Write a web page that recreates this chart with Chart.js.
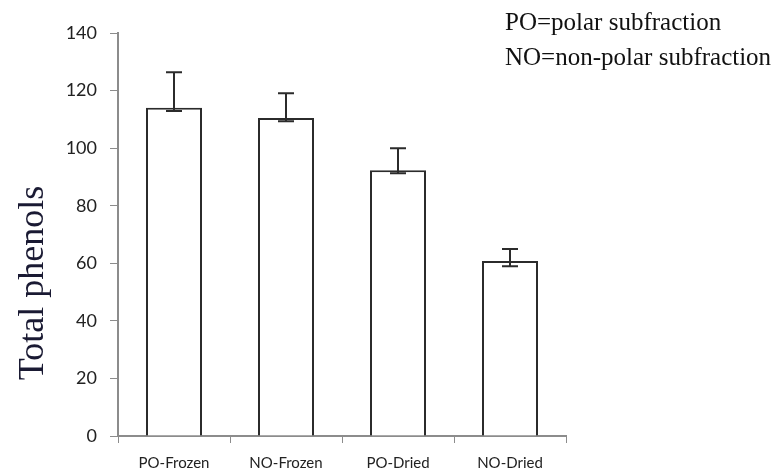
<!DOCTYPE html>
<html>
<head>
<meta charset="utf-8">
<script src="https://cdn.jsdelivr.net/npm/chart.js@4.4.1/dist/chart.umd.min.js"></script>
<style>
  html,body{margin:0;padding:0;background:#fff;}
  #wrap{width:777px;height:472px;position:relative;}
</style>
</head>
<body>
<div id="wrap"><canvas id="c" width="777" height="472"></canvas></div>
<script>
// data
const categories = ['PO-Frozen', 'NO-Frozen', 'PO-Dried', 'NO-Dried'];
const phenols = [114, 110.5, 92.3, 60.8];
const errUp = [12.4, 8.6, 7.7, 4.2];
const errDown = [1.1, 1.2, 1.0, 1.8];
const yTicks = [0, 20, 40, 60, 80, 100, 120, 140];
const notes = ['PO=polar subfraction', 'NO=non-polar subfraction'];
const yTitle = 'Total phenols';

const axisGray = '#8c8c8c';
const ink = '#2b2b2b';

// error bars + side texts
const extras = {
  id: 'extras',
  afterDatasetsDraw(chart){
    const ctx = chart.ctx, y = chart.scales.y;
    const bars = chart.getDatasetMeta(0).data;
    ctx.save();
    ctx.strokeStyle = ink; ctx.lineWidth = 2;
    bars.forEach((b, i)=>{
      const top = y.getPixelForValue(phenols[i] + errUp[i]);
      const bot = y.getPixelForValue(phenols[i] - errDown[i]);
      ctx.beginPath();
      ctx.moveTo(b.x, top); ctx.lineTo(b.x, bot);
      ctx.moveTo(b.x - 8, top); ctx.lineTo(b.x + 8, top);
      ctx.moveTo(b.x - 8, bot); ctx.lineTo(b.x + 8, bot);
      ctx.stroke();
    });
    ctx.restore();
  },
  afterDraw(chart){
    const ctx = chart.ctx;
    ctx.save();
    ctx.fillStyle = '#111';
    ctx.font = '25px "Liberation Serif"';
    ctx.textBaseline = 'alphabetic';
    ctx.fillText(notes[0], 505, 30);
    ctx.fillText(notes[1], 505, 65);
    ctx.translate(34, 283);
    ctx.rotate(-Math.PI/2);
    ctx.textAlign = 'center';
    ctx.textBaseline = 'middle';
    ctx.font = '36px "Liberation Serif"';
    ctx.fillStyle = '#1a1a33';
    ctx.fillText(yTitle, 0, 0);
    ctx.restore();
  }
};

new Chart(document.getElementById('c'), {
  type: 'bar',
  data: {
    labels: categories,
    datasets: [{
      data: phenols,
      backgroundColor: '#ffffff',
      borderColor: ink,
      borderWidth: 2,
      barPercentage: 0.5,
      categoryPercentage: 1
    }]
  },
  options: {
    responsive: false,
    animation: false,
    devicePixelRatio: 1,
    layout: {padding: {top: 33, right: 211, left: 0, bottom: 0}},
    plugins: {legend: {display: false}, tooltip: {enabled: false}},
    scales: {
      x: {
        grid: {display: true, drawOnChartArea: false, drawTicks: true, tickLength: 7, color: axisGray, offset: true},
        border: {color: axisGray, width: 2},
        ticks: {color: '#222', font: {family: 'Lato', size: 15}, padding: 11},
        afterFit(s){ s.height = 36; }
      },
      y: {
        min: 0, max: 140,
        afterBuildTicks(s){ s.ticks = yTicks.map(v=>({value: v})); },
        grid: {display: true, drawOnChartArea: false, drawTicks: true, tickLength: 8, color: axisGray},
        border: {color: axisGray, width: 2},
        ticks: {color: '#222', font: {family: 'Lato', size: 18}, padding: 13},
        afterFit(s){ s.width = 118; }
      }
    }
  },
  plugins: [extras]
});
</script>
</body>
</html>
